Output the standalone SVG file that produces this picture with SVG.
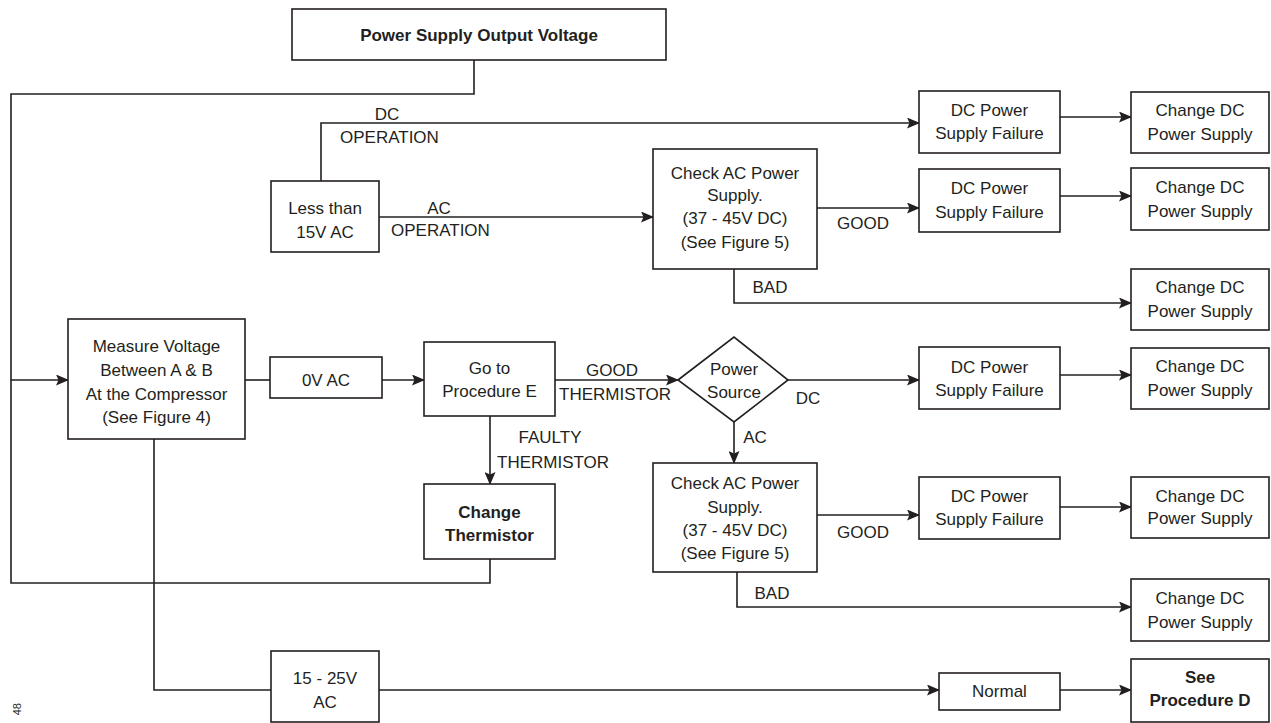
<svg xmlns="http://www.w3.org/2000/svg" width="1271" height="723" viewBox="0 0 1271 723">
<style>
  .box{fill:#fff;stroke:#231f20;stroke-width:1.6}
  .t{font-family:"Liberation Sans",Arial,sans-serif;font-size:17px;fill:#231f20;text-anchor:middle}
  .b{font-weight:bold}
  .l{font-family:"Liberation Sans",Arial,sans-serif;font-size:17px;fill:#231f20}
  .c{fill:none;stroke:#231f20;stroke-width:1.6}
  .a{marker-end:url(#ah)}
</style>
<defs>
  <marker id="ah" markerWidth="13" markerHeight="11" refX="12" refY="5.5" orient="auto" markerUnits="userSpaceOnUse">
    <path d="M0,0 L13,5.5 L0,11 L2.5,5.5 z" fill="#231f20"/>
  </marker>
</defs>
<rect width="1271" height="723" fill="#fff"/>

<g id="connectors">
  <path class="c a" d="M474,60 V94 H11 V380 H68"/>
  <path class="c" d="M490,559 V583 H11 V380"/>
  <path class="c a" d="M321,181 V123 H919"/>
  <path class="c a" d="M379,217 H653"/>
  <path class="c a" d="M817,208 H919"/>
  <path class="c a" d="M1060,117 H1131"/>
  <path class="c a" d="M1060,196 H1131"/>
  <path class="c a" d="M734,269 V303 H1131"/>
  <path class="c" d="M245,380 H270"/>
  <path class="c a" d="M382,380 H424"/>
  <path class="c a" d="M555,380 H678"/>
  <path class="c a" d="M490,416 V484"/>
  <path class="c a" d="M788,380 H919"/>
  <path class="c a" d="M1060,375 H1131"/>
  <path class="c a" d="M734,422 V463"/>
  <path class="c a" d="M817,515 H919"/>
  <path class="c a" d="M1060,507 H1131"/>
  <path class="c a" d="M737,572 V607 H1131"/>
  <path class="c" d="M154,439 V690 H271"/>
  <path class="c a" d="M379,690 H939"/>
  <path class="c a" d="M1060,690 H1131"/>
  <text class="t" x="387" y="120">DC</text>
  <text class="l" x="340" y="143">OPERATION</text>
  <text class="t" x="439" y="214">AC</text>
  <text class="l" x="391" y="236">OPERATION</text>
  <text class="t" x="863" y="229">GOOD</text>
  <text class="t" x="770" y="293">BAD</text>
  <text class="t" x="612" y="376">GOOD</text>
  <text class="l" x="559" y="400">THERMISTOR</text>
  <text class="t" x="550" y="443">FAULTY</text>
  <text class="l" x="497" y="468">THERMISTOR</text>
  <text class="t" x="808" y="404">DC</text>
  <text class="t" x="755" y="443">AC</text>
  <text class="t" x="863" y="538">GOOD</text>
  <text class="t" x="772" y="599">BAD</text>
</g>

<g id="n_psov"><rect class="box" x="292" y="9" width="374" height="51"/><text class="t b" x="479" y="41">Power Supply Output Voltage</text></g>
<g id="n_less15"><rect class="box" x="271" y="181" width="108" height="71"/><text class="t" x="325" y="214">Less than</text><text class="t" x="325" y="238">15V AC</text></g>
<g id="n_dcpsf1"><rect class="box" x="919" y="91" width="141" height="62"/><text class="t" x="989.5" y="116">DC Power</text><text class="t" x="989.5" y="139">Supply Failure</text></g>
<g id="n_chg1"><rect class="box" x="1131" y="92" width="138" height="61"/><text class="t" x="1200" y="116">Change DC</text><text class="t" x="1200" y="140">Power Supply</text></g>
<g id="n_checkac1"><rect class="box" x="653" y="149" width="164" height="120"/><text class="t" x="735" y="179">Check AC Power</text><text class="t" x="735" y="201">Supply.</text><text class="t" x="735" y="224">(37 - 45V DC)</text><text class="t" x="735" y="248">(See Figure 5)</text></g>
<g id="n_dcpsf2"><rect class="box" x="919" y="169" width="141" height="63"/><text class="t" x="989.5" y="194">DC Power</text><text class="t" x="989.5" y="218">Supply Failure</text></g>
<g id="n_chg2"><rect class="box" x="1131" y="168" width="138" height="62"/><text class="t" x="1200" y="193">Change DC</text><text class="t" x="1200" y="217">Power Supply</text></g>
<g id="n_chg3"><rect class="box" x="1131" y="269" width="138" height="61"/><text class="t" x="1200" y="293">Change DC</text><text class="t" x="1200" y="317">Power Supply</text></g>
<g id="n_measure"><rect class="box" x="68" y="319" width="177" height="120"/><text class="t" x="156.5" y="352">Measure Voltage</text><text class="t" x="156.5" y="376">Between A &amp; B</text><text class="t" x="156.5" y="400">At the Compressor</text><text class="t" x="156.5" y="423">(See Figure 4)</text></g>
<g id="n_0vac"><rect class="box" x="270" y="357" width="112" height="41"/><text class="t" x="326" y="386">0V AC</text></g>
<g id="n_goto"><rect class="box" x="424" y="342" width="131" height="74"/><text class="t" x="489.5" y="374">Go to</text><text class="t" x="489.5" y="397">Procedure E</text></g>
<g id="n_source"><polygon class="box" points="678,380 734,337 788,380 734,422"/><text class="t" x="734" y="375">Power</text><text class="t" x="734" y="398">Source</text></g>
<g id="n_dcpsf3"><rect class="box" x="919" y="347" width="141" height="62"/><text class="t" x="989.5" y="373">DC Power</text><text class="t" x="989.5" y="396">Supply Failure</text></g>
<g id="n_chg4"><rect class="box" x="1131" y="348" width="138" height="61"/><text class="t" x="1200" y="372">Change DC</text><text class="t" x="1200" y="396">Power Supply</text></g>
<g id="n_thermistor"><rect class="box" x="424" y="484" width="131" height="75"/><text class="t b" x="489.5" y="518">Change</text><text class="t b" x="489.5" y="541">Thermistor</text></g>
<g id="n_checkac2"><rect class="box" x="653" y="463" width="164" height="109"/><text class="t" x="735" y="489">Check AC Power</text><text class="t" x="735" y="513">Supply.</text><text class="t" x="735" y="536">(37 - 45V DC)</text><text class="t" x="735" y="559">(See Figure 5)</text></g>
<g id="n_dcpsf4"><rect class="box" x="919" y="477" width="141" height="62"/><text class="t" x="989.5" y="502">DC Power</text><text class="t" x="989.5" y="525">Supply Failure</text></g>
<g id="n_chg5"><rect class="box" x="1131" y="477" width="138" height="61"/><text class="t" x="1200" y="502">Change DC</text><text class="t" x="1200" y="524">Power Supply</text></g>
<g id="n_chg6"><rect class="box" x="1131" y="579" width="138" height="62"/><text class="t" x="1200" y="604">Change DC</text><text class="t" x="1200" y="628">Power Supply</text></g>
<g id="n_1525"><rect class="box" x="271" y="651" width="108" height="71"/><text class="t" x="325" y="684">15 - 25V</text><text class="t" x="325" y="708">AC</text></g>
<g id="n_normal"><rect class="box" x="939" y="673" width="121" height="37"/><text class="t" x="999.5" y="697">Normal</text></g>
<g id="n_procD"><rect class="box" x="1131" y="659" width="138" height="63"/><text class="t b" x="1200" y="683">See</text><text class="t b" x="1200" y="706">Procedure D</text></g>

<text font-family="Liberation Sans,Arial,sans-serif" font-size="11" fill="#231f20" text-anchor="end" transform="translate(21,703) rotate(-90)">48</text>
</svg>
